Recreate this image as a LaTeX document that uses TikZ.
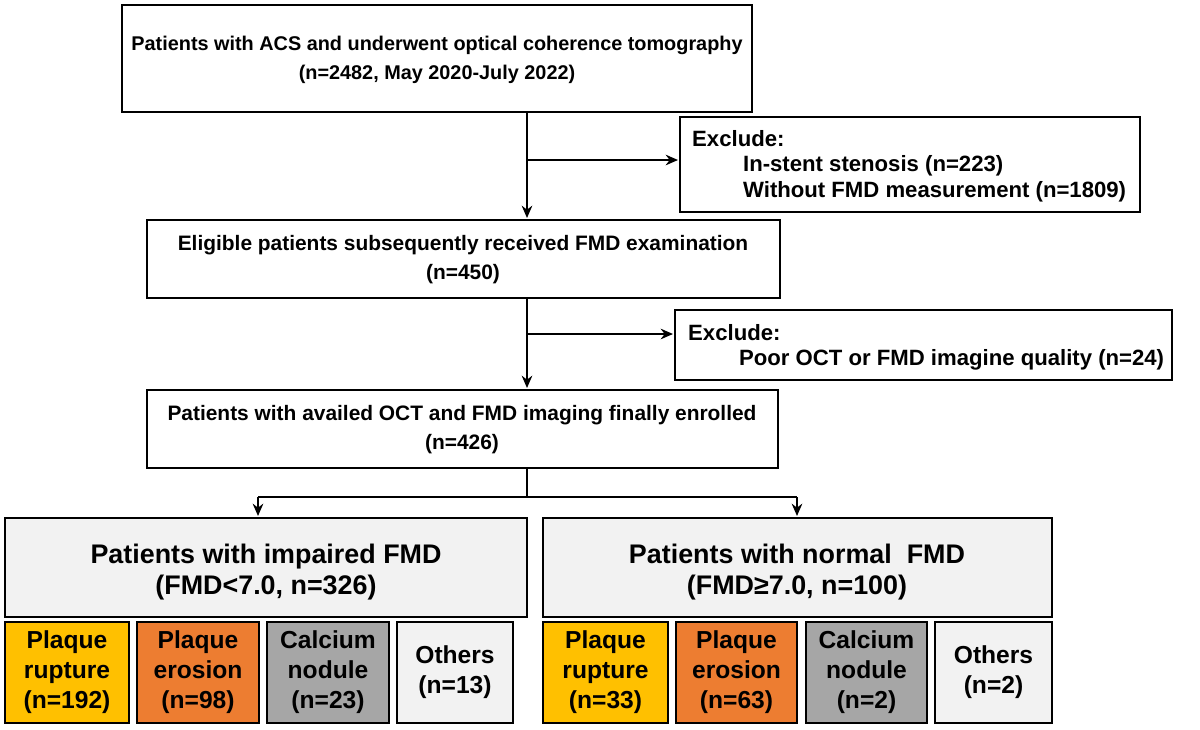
\documentclass[tikz,border=0pt]{standalone}
\usepackage{fontspec}
\setmainfont{Liberation Sans}
\usetikzlibrary{arrows.meta}
\definecolor{lg}{HTML}{F2F2F2}
\definecolor{yel}{HTML}{FFC000}
\definecolor{org}{HTML}{ED7D31}
\definecolor{gry}{HTML}{A6A6A6}
\begin{document}
\begin{tikzpicture}[x=0.02cm,y=-0.02cm,
  box/.style={draw,line width=1.6pt,inner sep=0pt},
  t/.style={font=\bfseries\fontsize{11.9}{16.5}\selectfont,align=center},
  tt/.style={font=\bfseries\fontsize{11.3}{16.5}\selectfont,align=center},
  tg/.style={font=\bfseries\fontsize{15.3}{17.5}\selectfont,align=center},
  ts/.style={font=\bfseries\fontsize{12.6}{14.5}\selectfont,align=left},
  tb/.style={font=\bfseries\fontsize{14}{17}\selectfont,align=center},
  arr/.style={line width=1.2pt,-{Stealth[length=7pt,width=6pt]}},
  ln/.style={line width=1.2pt}]
\useasboundingbox (0,0) rectangle (1200,730);
\draw[box] (122,5) rectangle (752,112);
\node[tt] (top) at (437,60) {Patients with ACS and underwent optical coherence tomography\\(n=2482, May 2020-July 2022)};
\draw[box] (680,117) rectangle (1140,212);
\node[ts,anchor=north west] (ex1) at (686,124) {Exclude:\\\hspace{2.3em}In-stent stenosis (n=223)\\\hspace{2.3em}Without FMD measurement (n=1809)};
\draw[box] (147,220) rectangle (780,298);
\node[t] (elig) at (463,260) {Eligible patients subsequently received FMD examination\\(n=450)};
\draw[box] (675,310) rectangle (1172,380);
\node[ts,anchor=north west] (ex2) at (682,318) {Exclude:\\\hspace{2.3em}Poor OCT or FMD imagine quality (n=24)};
\draw[box] (147,390) rectangle (778,468);
\node[t] (enr) at (462,430) {Patients with availed OCT and FMD imaging finally enrolled\\(n=426)};
\draw[box,fill=lg] (5,518) rectangle (527,617);
\node[tg] (imp) at (266,572) {Patients with impaired FMD\\(FMD<7.0, n=326)};
\draw[box,fill=lg] (543,518) rectangle (1052,617);
\node[tg] (nor) at (797,572) {Patients with normal~\ FMD\\(FMD≥7.0, n=100)};
% small boxes
\foreach \a/\b/\c/\txt/\n in {5/129/yel/{Plaque\\rupture\\(n=192)}/a1, 137/259/org/{Plaque\\erosion\\(n=98)}/a2, 267/389/gry/{Calcium\\nodule\\(n=23)}/a3, 397/513/lg/{Others\\(n=13)}/a4,
  543/668/yel/{Plaque\\rupture\\(n=33)}/b1, 676/797/org/{Plaque\\erosion\\(n=63)}/b2, 806/927/gry/{Calcium\\nodule\\(n=2)}/b3, 935/1052/lg/{Others\\(n=2)}/b4}{
  \draw[box,fill=\c] (\a,622) rectangle (\b,723);
  \node[tb] (\n) at ({(\a+\b)/2},672) {\txt};
}
% connectors
\draw[arr] (527,112) -- (527,218);
\draw[arr] (527,160) -- (678,160);
\draw[arr] (527,298) -- (527,388);
\draw[arr] (527,334) -- (673,334);
\draw[ln] (527,468) -- (527,497);
\draw[ln] (258,497) -- (797,497);
\draw[arr] (258,497) -- (258,516);
\draw[arr] (797,497) -- (797,516);
\end{tikzpicture}
\end{document}
